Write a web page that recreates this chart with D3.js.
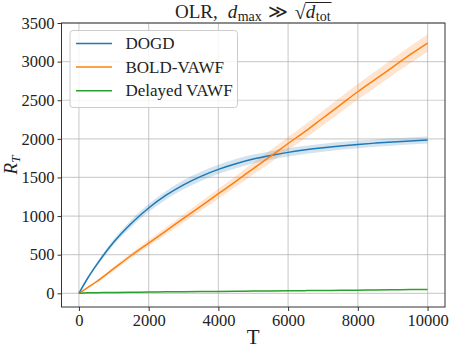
<!DOCTYPE html>
<html><head><meta charset="utf-8">
<script src="https://cdn.jsdelivr.net/npm/d3@7"></script>
<style>body{margin:0;background:#fff}svg{display:block}text{font-family:'Liberation Serif','DejaVu Serif',serif}</style>
</head><body>
<svg id="chart" width="449" height="348"></svg>
<script>
const T = [0,250,500,1000,1500,2000,2500,3000,3500,4000,4500,5000,5500,6000,6500,7000,7500,8000,8500,9000,9500,10000];
const dogd =      [0,195,365,665,905,1105,1270,1405,1515,1605,1678,1738,1785,1825,1858,1885,1908,1928,1945,1960,1973,1985];
const dogdStd =   [0,15,25,35,45,50,55,58,60,60,60,58,56,55,54,52,50,50,48,48,46,45];
const bold =      [0,75,150,320,490,650,810,970,1130,1290,1450,1615,1775,1940,2100,2270,2440,2610,2770,2930,3090,3240];
const boldStd =   [0,10,15,25,32,40,46,52,58,64,70,75,80,85,90,94,98,102,105,108,110,112];
const delayed =   [0,6,8,11,14,16,19,21,23,25,27,29,31,33,35,37,39,41,43,45,48,50];
const delayedStd =[0,1,1,2,2,2,2,3,3,3,3,3,3,3,3,3,3,3,3,3,3,3];
const xTicks = [0,2000,4000,6000,8000,10000];
const yTicks = [0,500,1000,1500,2000,2500,3000,3500];
const seriesNames = ["DOGD","BOLD-VAWF","Delayed VAWF"];
const colors = ["#1f77b4","#ff7f0e","#2ca02c"];

const svg = d3.select("#chart");
const L=61.5, R=445, Tp=23, B=307;
const x = d3.scaleLinear().domain([-500,10500]).range([L,R]);
const y = d3.scaleLinear().domain([-177,3500]).range([B,Tp]);
const serif = "'Liberation Serif','DejaVu Serif',serif";

// grid
const g = svg.append("g");
g.selectAll(".gx").data(xTicks).enter().append("line")
  .attr("x1",d=>x(d)).attr("x2",d=>x(d)).attr("y1",Tp).attr("y2",B)
  .attr("stroke","#b0b0b0").attr("stroke-opacity",0.6).attr("stroke-width",1.2);
g.selectAll(".gy").data(yTicks).enter().append("line")
  .attr("y1",d=>y(d)).attr("y2",d=>y(d)).attr("x1",L).attr("x2",R)
  .attr("stroke","#b0b0b0").attr("stroke-opacity",0.6).attr("stroke-width",1.2);

const series = [[dogd,dogdStd],[bold,boldStd],[delayed,delayedStd]];
const area = d3.area().x(d=>x(d.t)).y0(d=>y(d.v-d.s)).y1(d=>y(d.v+d.s)).curve(d3.curveMonotoneX);
const line = d3.line().x(d=>x(d.t)).y(d=>y(d.v)).curve(d3.curveMonotoneX);
series.forEach(([vals,std],i)=>{
  const data = T.map((t,j)=>({t,v:vals[j],s:std[j]}));
  svg.append("path").datum(data).attr("d",area).attr("fill",colors[i]).attr("fill-opacity",0.2);
});
series.forEach(([vals,std],i)=>{
  const data = T.map((t,j)=>({t,v:vals[j],s:std[j]}));
  svg.append("path").datum(data).attr("d",line).attr("fill","none").attr("stroke",colors[i]).attr("stroke-width",1.5);
});

// frame
svg.append("rect").attr("x",L).attr("y",Tp).attr("width",R-L).attr("height",B-Tp)
  .attr("fill","none").attr("stroke","#333").attr("stroke-width",1);

// axes
const xa = svg.append("g").attr("transform",`translate(0,${B})`)
  .call(d3.axisBottom(x).tickValues(xTicks).tickFormat(d3.format("d")).tickSizeOuter(0).tickSize(4).tickPadding(3));
const ya = svg.append("g").attr("transform",`translate(${L},0)`)
  .call(d3.axisLeft(y).tickValues(yTicks).tickFormat(d3.format("d")).tickSizeOuter(0).tickSize(4).tickPadding(3));
[xa,ya].forEach(a=>{
  a.attr("font-family",null).attr("font-size",null);
  a.select(".domain").remove();
  a.selectAll("line").attr("stroke","#333");
  a.selectAll("text").style("font-family",serif).style("font-size","16.5px").attr("fill","#222");
});

// axis labels
svg.append("text").attr("x",(L+R)/2).attr("y",344).attr("text-anchor","middle")
  .style("font-family",serif).style("font-size","21px").attr("fill","#222").text("T");
const yl = svg.append("text").attr("transform",`translate(17,${(Tp+B)/2}) rotate(-90)`).attr("text-anchor","middle")
  .style("font-family",serif).style("font-size","19px").attr("fill","#222");
yl.append("tspan").attr("font-style","italic").text("R");
yl.append("tspan").attr("font-style","italic").style("font-size","13px").attr("dy",3).text("T");

// title
const tg = svg.append("g");
let cx = 0; const base = 17.5; const fs = 19;
function piece(txt, opts={}){
  const t = tg.append("text").attr("x",cx).attr("y",base+(opts.dy||0))
    .style("font-family",serif).style("font-size",(opts.size||fs)+"px").attr("fill","#222")
    .attr("font-style",opts.italic?"italic":"normal").text(txt);
  const w = t.node().getComputedTextLength();
  const start = cx; cx += w + (opts.after||0);
  return {start,w};
}
piece("OLR,",{after:10});
piece("d",{italic:true,after:0.5});
piece("max",{size:14,dy:3.5,after:6});
piece("≫",{after:7});
const sq = piece("√",{size:20,dy:1.5});
const d2 = piece("d",{italic:true,after:0.5});
const tt = piece("tot",{size:14,dy:3.5,after:1});
tg.append("line").attr("x1",sq.start+sq.w-0.5).attr("x2",cx).attr("y1",2.5).attr("y2",2.5)
  .attr("stroke","#222").attr("stroke-width",1);
tg.attr("transform",`translate(${(L+R)/2 - cx/2},0)`);

// legend
const lg = svg.append("g");
lg.append("rect").attr("x",70).attr("y",30.5).attr("width",167.5).attr("height",77).attr("rx",3)
  .attr("fill","#fff").attr("fill-opacity",0.8).attr("stroke","#ccc").attr("stroke-width",1);
seriesNames.forEach((n,i)=>{
  const yy = 43.5 + i*23.6;
  lg.append("line").attr("x1",76).attr("x2",112).attr("y1",yy).attr("y2",yy).attr("stroke",colors[i]).attr("stroke-width",1.5);
  lg.append("text").attr("x",125.5).attr("y",yy+5.5).style("font-family",serif).style("font-size","17px").attr("fill","#222").text(n);
});
</script>
</body></html>
